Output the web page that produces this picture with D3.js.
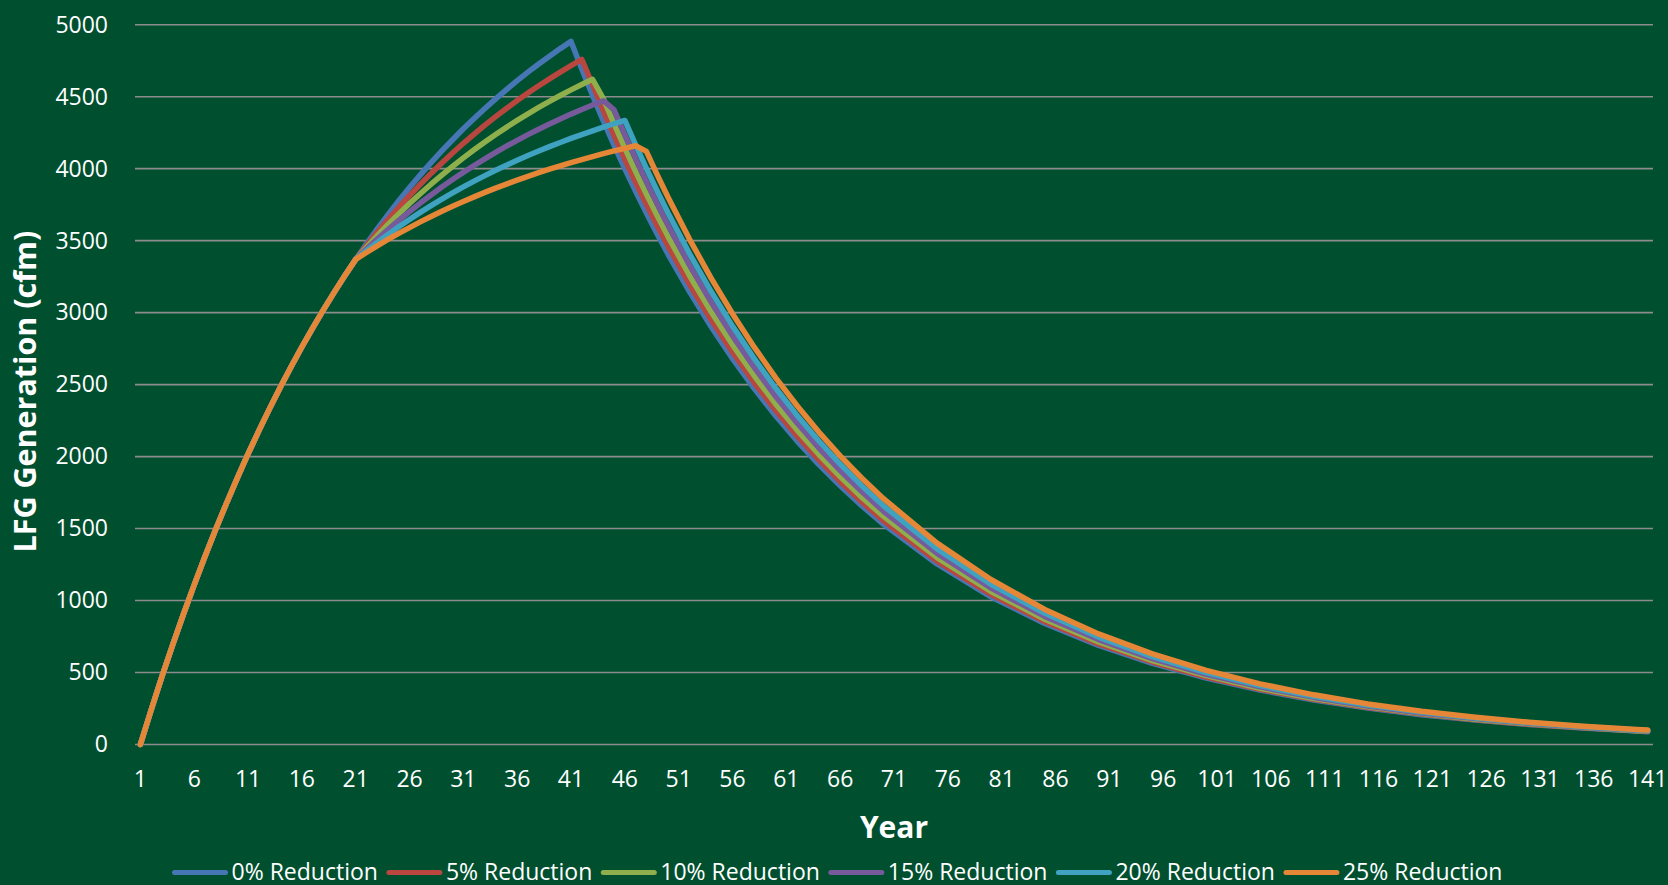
<!DOCTYPE html>
<html>
<head>
<meta charset="utf-8">
<script src="https://cdn.jsdelivr.net/npm/d3@7"></script>
<style>
  html, body { margin: 0; padding: 0; background: #005030; }
  svg { display: block; }
  text { font-family: "Open Sans", "Noto Sans", sans-serif; fill: #ffffff; }
</style>
</head>
<body>
<svg id="chart" width="1668" height="885"></svg>
<script>
// Years that carry a sampled value (yearly through the peaks, sparser along the smooth decay)
const years = [
  1, 2, 3, 4, 5, 6, 7, 8, 9, 10, 11, 12, 13, 14, 15, 16, 17, 18, 19, 20,
  21, 22, 23, 24, 25, 26, 27, 28, 29, 30, 31, 32, 33, 34, 35, 36, 37, 38, 39, 40,
  41, 42, 43, 44, 45, 46, 47, 48, 49, 50,
  52, 54, 56, 58, 60, 62, 64, 66, 68, 70,
  75, 80, 85, 90, 95, 100, 105, 110, 115, 120, 125, 130, 135, 140, 141
];

// Generation common to every scenario, years 1-21 (cfm)
const sharedYears1to21 = [
  0, 240, 471, 692, 905, 1109, 1306, 1495, 1676, 1850,
  2018, 2178, 2333, 2482, 2624, 2761, 2893, 3019, 3141, 3258, 3370
];

// Scenario values from year 22 onward (cfm)
const reduction0 = [
  3478, 3582, 3681, 3777, 3869, 3957, 4042, 4123, 4201, 4277, 4349, 4418, 4485, 4549, 4611,
  4670, 4727, 4781, 4834, 4884, 4693, 4509, 4332, 4162, 3999, 3842, 3691, 3547, 3407,
  3146, 2904, 2680, 2474, 2284, 2108, 1946, 1797, 1659, 1531,
  1254, 1026, 840, 688, 563, 461, 378, 309, 253, 207, 170, 139, 114, 93, 89
];
const reduction5 = [
  3466, 3558, 3646, 3731, 3813, 3891, 3967, 4039, 4109, 4176, 4240, 4302, 4361, 4418, 4473,
  4525, 4576, 4624, 4671, 4716, 4759, 4583, 4403, 4231, 4065, 3905, 3752, 3605, 3464,
  3197, 2952, 2725, 2515, 2322, 2143, 1979, 1826, 1686, 1556,
  1274, 1043, 854, 699, 573, 469, 384, 314, 257, 211, 172, 141, 116, 95, 91
];
const reduction10 = [
  3454, 3534, 3612, 3686, 3758, 3826, 3892, 3955, 4016, 4075, 4131, 4185, 4237, 4287, 4335,
  4381, 4425, 4467, 4508, 4547, 4585, 4621, 4487, 4311, 4142, 3980, 3824, 3674, 3530,
  3258, 3008, 2776, 2563, 2366, 2184, 2016, 1861, 1718, 1586,
  1298, 1063, 870, 713, 583, 478, 391, 320, 262, 215, 176, 144, 118, 96, 93
];
const reduction15 = [
  3442, 3511, 3577, 3641, 3702, 3761, 3817, 3872, 3924, 3974, 4022, 4068, 4113, 4156, 4197,
  4236, 4274, 4310, 4345, 4379, 4411, 4442, 4472, 4408, 4235, 4069, 3910, 3756, 3609,
  3331, 3075, 2839, 2621, 2419, 2233, 2061, 1903, 1757, 1622,
  1328, 1087, 890, 729, 597, 488, 400, 327, 268, 219, 180, 147, 120, 99, 95
];
const reduction20 = [
  3430, 3487, 3543, 3596, 3647, 3696, 3743, 3788, 3831, 3873, 3913, 3952, 3989, 4024, 4059,
  4091, 4123, 4153, 4182, 4210, 4237, 4263, 4288, 4312, 4335, 4165, 4002, 3845, 3694,
  3410, 3148, 2906, 2682, 2476, 2286, 2110, 1948, 1798, 1660,
  1359, 1113, 911, 746, 611, 500, 409, 335, 274, 225, 184, 151, 123, 101, 97
];
const reduction25 = [
  3418, 3464, 3508, 3550, 3591, 3630, 3668, 3704, 3739, 3772, 3804, 3835, 3865, 3893, 3920,
  3947, 3972, 3996, 4019, 4042, 4063, 4084, 4104, 4123, 4141, 4159, 4120, 3958, 3803,
  3511, 3241, 2992, 2762, 2549, 2353, 2172, 2005, 1851, 1709,
  1399, 1146, 938, 768, 629, 515, 421, 345, 282, 231, 189, 155, 127, 104, 100
];

const seriesNames = ["0% Reduction", "5% Reduction", "10% Reduction", "15% Reduction", "20% Reduction", "25% Reduction"];
const seriesColors = ["#4677B4", "#B9463F", "#8FAF4C", "#765A9B", "#3FA2C0", "#E58736"];

const yearTicks = [1, 6, 11, 16, 21, 26, 31, 36, 41, 46, 51, 56, 61, 66, 71, 76, 81, 86, 91, 96,
                   101, 106, 111, 116, 121, 126, 131, 136, 141];
const valueTicks = [0, 500, 1000, 1500, 2000, 2500, 3000, 3500, 4000, 4500, 5000];

const series = [reduction0, reduction5, reduction10, reduction15, reduction20, reduction25].map((rest, i) => ({
  name: seriesNames[i],
  color: seriesColors[i],
  values: sharedYears1to21.concat(rest).map((v, j) => ({ year: years[j], value: v }))
}));

// ---- layout ----
const svg = d3.select("#chart");
const plot = { left: 135, right: 1653, top: 24.7, bottom: 744.5 };

// Category axis: one band per year, points sit in the middle of each band
const x = d3.scaleBand()
  .domain(d3.range(1, 142))
  .range([plot.left, plot.right])
  .paddingInner(0).paddingOuter(0);
const xc = yr => x(yr) + x.bandwidth() / 2;

const y = d3.scaleLinear().domain([0, 5000]).range([plot.bottom, plot.top]);

// Horizontal gridlines
svg.append("g")
  .selectAll("line")
  .data(valueTicks)
  .join("line")
  .attr("x1", plot.left).attr("x2", plot.right)
  .attr("y1", d => y(d)).attr("y2", d => y(d))
  .attr("stroke", "#8C8C8C")
  .attr("stroke-width", 1.6);

// Value axis labels
const yAxis = svg.append("g")
  .attr("transform", `translate(${plot.left},0)`)
  .call(d3.axisLeft(y).tickValues(valueTicks).tickFormat(d3.format("d")).tickSize(0).tickPadding(27));
yAxis.select(".domain").remove();
yAxis.selectAll("text")
  .style("font-size", "23px")
  .attr("fill", "#ffffff");

// Year axis labels
const xAxis = svg.append("g")
  .attr("transform", `translate(0,${plot.bottom})`)
  .call(d3.axisBottom(x).tickValues(yearTicks).tickSize(0).tickPadding(26));
xAxis.select(".domain").remove();
xAxis.selectAll("text")
  .style("font-size", "23px")
  .attr("fill", "#ffffff");

// Series lines
const line = d3.line()
  .x(d => xc(d.year))
  .y(d => y(d.value))
  .curve(d3.curveLinear);

svg.append("g")
  .selectAll("path")
  .data(series)
  .join("path")
  .attr("d", d => line(d.values))
  .attr("fill", "none")
  .attr("stroke", d => d.color)
  .attr("stroke-width", 5.5)
  .attr("stroke-linejoin", "round")
  .attr("stroke-linecap", "round");

// Axis titles
svg.append("text")
  .attr("transform", `translate(36,${(plot.top + plot.bottom) / 2 + 7}) rotate(-90)`)
  .attr("text-anchor", "middle")
  .style("font-size", "30.5px")
  .style("font-weight", "700")
  .text("LFG Generation (cfm)");

svg.append("text")
  .attr("x", (plot.left + plot.right) / 2)
  .attr("y", 838)
  .attr("text-anchor", "middle")
  .style("font-size", "30px")
  .style("font-weight", "700")
  .text("Year");

// Legend along the bottom
const legend = svg.append("g");
const swatchLen = 55, swatchGap = 4, itemGap = 9;
let cursor = 0;
series.forEach(s => {
  const item = legend.append("g").attr("transform", `translate(${cursor},0)`);
  item.append("line")
    .attr("x1", 2).attr("x2", swatchLen - 2)
    .attr("y1", 872.5).attr("y2", 872.5)
    .attr("stroke", s.color)
    .attr("stroke-width", 5)
    .attr("stroke-linecap", "round");
  const t = item.append("text")
    .attr("x", swatchLen + swatchGap)
    .attr("y", 879.5)
    .style("font-size", "23px")
    .text(s.name);
  cursor += swatchLen + swatchGap + t.node().getComputedTextLength() + itemGap;
});
const legendWidth = cursor - itemGap;
legend.attr("transform", `translate(${837.5 - legendWidth / 2},0)`);
</script>
</body>
</html>
